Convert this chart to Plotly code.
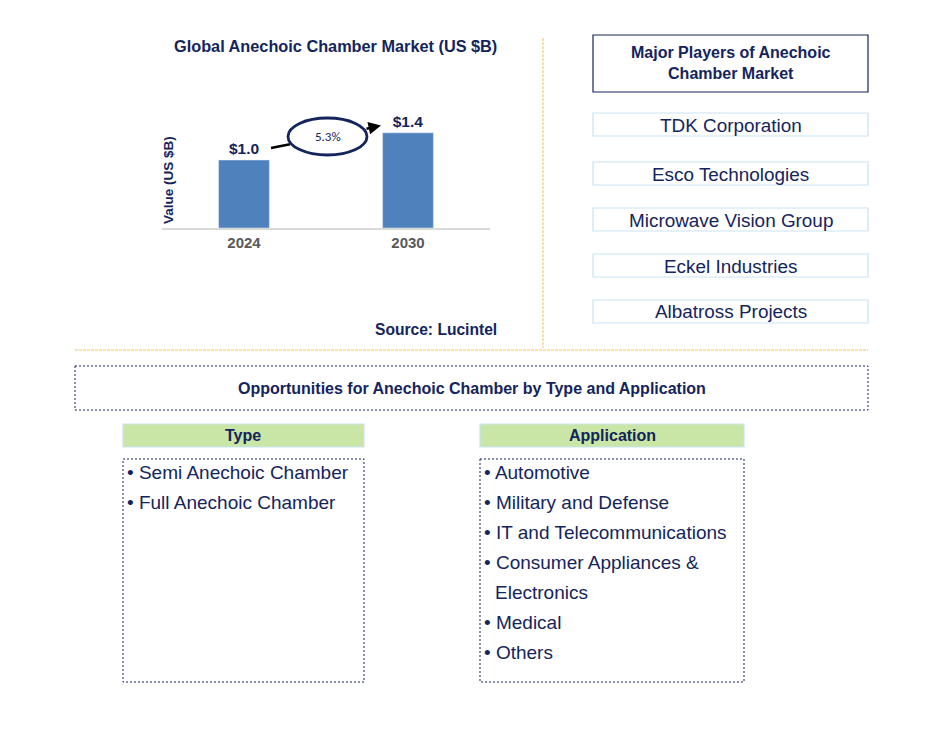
import plotly.graph_objects as go

# ---- data ----
years = ["2024", "2030"]
values = [1.0, 1.4]
value_labels = ["$1.0", "$1.4"]
cagr_label = "5.3%"
players = ["TDK Corporation", "Esco Technologies", "Microwave Vision Group",
           "Eckel Industries", "Albatross Projects"]
types = ["Semi Anechoic Chamber", "Full Anechoic Chamber"]
applications = ["Automotive", "Military and Defense", "IT and Telecommunications",
                "Consumer Appliances &", "Electronics", "Medical", "Others"]
application_bullets = [True, True, True, True, False, True, True]

W, H = 933, 743
NAVY = "#14245c"
FONT = "Arial, Liberation Sans, sans-serif"


def px(x):
    return x / W


def py(y):
    return 1 - y / H


def note(x, y, text, size, xanchor="center", **kw):
    return dict(x=px(x), y=py(y), xref="paper", yref="paper", text=text,
                showarrow=False, xanchor=xanchor, yanchor="middle",
                font=dict(size=size, color=kw.pop("color", NAVY), family=kw.pop("family", FONT)),
                **kw)


fig = go.Figure()
fig.add_trace(go.Bar(
    x=years, y=values, width=0.31, marker_color="#4f81bd",
    text=[f"<b>{t}</b>" for t in value_labels], textposition="outside",
    textfont=dict(size=15.5, color=NAVY, family=FONT), cliponaxis=False,
    hoverinfo="skip",
))

shapes = []
annotations = []

annotations.append(note(335, 46, "<b>Global Anechoic Chamber Market (US $B)</b>", 16.3))
annotations.append(note(168, 180, "<b>Value (US $B)</b>", 13.5, textangle=-90))
annotations.append(note(436, 329, "<b>Source: Lucintel</b>", 15.6))

# CAGR arrow + ellipse
shapes.append(dict(type="line", xref="paper", yref="paper",
                   x0=px(271), y0=py(148), x1=px(290), y1=py(144.2),
                   line=dict(color="black", width=2.5)))
annotations.append(dict(x=px(381), y=py(125.5), xref="paper", yref="paper",
                        ax=365 - 381, ay=129 - 125.5, axref="pixel", ayref="pixel",
                        showarrow=True, arrowhead=2, arrowsize=1, arrowwidth=2.5,
                        arrowcolor="black", text=""))
shapes.append(dict(type="circle", xref="paper", yref="paper",
                   x0=px(288), x1=px(367), y0=py(118), y1=py(155),
                   line=dict(color=NAVY, width=2.8), fillcolor="white"))
annotations.append(note(327.5, 136.5, cagr_label, 13, family="Calibri, Carlito, " + FONT))

# separators
shapes.append(dict(type="line", xref="paper", yref="paper",
                   x0=px(543), x1=px(543), y0=py(38), y1=py(348),
                   line=dict(color="#f2c14e", width=1, dash="3px,1px")))
shapes.append(dict(type="line", xref="paper", yref="paper",
                   x0=px(75), x1=px(868), y0=py(350), y1=py(350),
                   line=dict(color="#f2c14e", width=1, dash="3px,1px")))

# major players
shapes.append(dict(type="rect", xref="paper", yref="paper",
                   x0=px(593), x1=px(868), y0=py(35), y1=py(92),
                   line=dict(color=NAVY, width=1.2)))
annotations.append(note(730.5, 63, "<b>Major Players of Anechoic<br>Chamber Market</b>", 16))
player_tops = [113, 162, 208, 254, 300]
for name, top in zip(players, player_tops):
    shapes.append(dict(type="rect", xref="paper", yref="paper",
                       x0=px(593), x1=px(868), y0=py(top), y1=py(top + 23),
                       line=dict(color="#c9e3f4", width=1.2)))
    annotations.append(note(730.5, top + 12, name, 18.9))

# opportunities header
shapes.append(dict(type="rect", xref="paper", yref="paper",
                   x0=px(75), x1=px(868), y0=py(366), y1=py(410),
                   line=dict(color=NAVY, width=1, dash="2px,2px")))
annotations.append(note(472, 388, "<b>Opportunities for Anechoic Chamber by Type and Application</b>", 16))

# column headers and list boxes
for label, x0, x1 in [("Type", 123, 364), ("Application", 480, 744)]:
    shapes.append(dict(type="rect", xref="paper", yref="paper",
                       x0=px(x0), x1=px(x1), y0=py(424), y1=py(447),
                       line=dict(color="#c9e3f4", width=1.2), fillcolor="#c9e6a6"))
    annotations.append(note((x0 + x1) / 2, 435.5, f"<b>{label}</b>", 16))
    shapes.append(dict(type="rect", xref="paper", yref="paper",
                       x0=px(x0), x1=px(x1), y0=py(459), y1=py(682),
                       line=dict(color=NAVY, width=1, dash="2px,2px")))

for i, t in enumerate(types):
    annotations.append(note(125, 472 + 30 * i, "• " + t, 19, xanchor="left"))
for i, (t, b) in enumerate(zip(applications, application_bullets)):
    annotations.append(note(482 if b else 493, 472 + 30 * i,
                            ("• " + t) if b else t, 19, xanchor="left"))

fig.update_layout(
    width=W, height=H, margin=dict(l=0, r=0, t=0, b=0),
    paper_bgcolor="white", plot_bgcolor="white", showlegend=False,
    font=dict(family=FONT, color=NAVY),
    xaxis=dict(domain=[px(162), px(490)], showline=True, linecolor="#d9d9d9",
               linewidth=1.5, ticks="", showgrid=False, fixedrange=True,
               tickfont=dict(size=15, color="#595959", family=FONT),
               tickvals=years, ticktext=[f"<b>{y}</b>" for y in years]),
    yaxis=dict(domain=[py(228), py(100)], range=[0, 128 / 68], showticklabels=False,
               showgrid=False, zeroline=False, showline=False, ticks="", fixedrange=True),
    shapes=shapes, annotations=annotations,
)

fig.write_html("out.html", config={"displayModeBar": False},
               post_script="document.body.style.margin='0';")
